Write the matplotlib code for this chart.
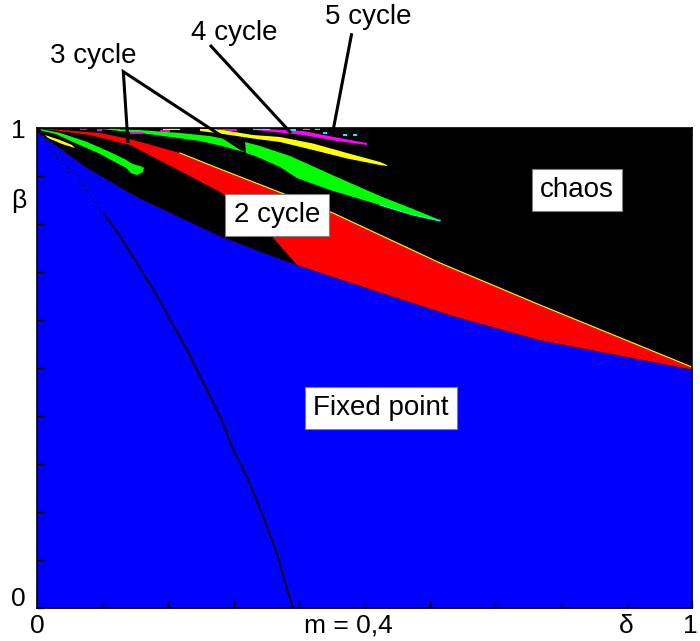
import numpy as np
import matplotlib
matplotlib.use("Agg")
import matplotlib.pyplot as plt
from matplotlib.transforms import ScaledTranslation

plt.rcParams['font.family'] = ['Liberation Sans', 'DejaVu Sans']

# ---------------- data (delta, beta) ----------------
# upper boundary of the fixed-point (blue) region
blue_d = [0.0, 0.0763, 0.1527, 0.279, 0.351, 0.397, 0.508, 0.631, 0.768, 1.0]
blue_b = [0.992, 0.917, 0.856, 0.775, 0.7375, 0.7146, 0.6646, 0.610, 0.558, 0.497]

# 2-cycle (red) region: upper edge and lower-left edge
red_up_d = [0.0, 0.0962, 0.1420, 0.2183, 0.2794, 0.4519, 0.6153, 0.7679, 1.0]
red_up_b = [1.0, 0.9896, 0.977, 0.9479, 0.9146, 0.8229, 0.7188, 0.6313, 0.502]
red_lo_d = [0.0, 0.0809, 0.1420, 0.2107, 0.2794, 0.3374, 0.3634, 0.397]
red_lo_b = [1.0, 0.9854, 0.9646, 0.916, 0.8667, 0.8042, 0.7667, 0.7146]

# 3-cycle (green) regions
g1_d = [0.0046, 0.0351, 0.0763, 0.1115, 0.1344, 0.1435, 0.1511, 0.1573, 0.1634,
        0.1618, 0.1527, 0.1435, 0.1359, 0.1191, 0.0962, 0.0611, 0.0275, 0.0076]
g1_b = [0.998, 0.990, 0.971, 0.950, 0.935, 0.927, 0.923, 0.921, 0.917,
        0.908, 0.902, 0.906, 0.917, 0.929, 0.946, 0.967, 0.988, 0.994]
gA_d = [0.0885, 0.1573, 0.2183, 0.2641, 0.2947, 0.3099, 0.3160, 0.3038, 0.2824,
        0.2489, 0.2031, 0.1573, 0.1115]
gA_b = [0.999, 0.9958, 0.9896, 0.9833, 0.975, 0.9625, 0.95, 0.9542, 0.9625,
        0.9729, 0.9813, 0.9896, 0.9958]
gB_d = [0.3176, 0.3405, 0.3863, 0.4473, 0.5237, 0.5740, 0.6153, 0.6153, 0.5740,
        0.5237, 0.4473, 0.3969, 0.3710, 0.3328, 0.3191]
gB_b = [0.9708, 0.9625, 0.9417, 0.9042, 0.8583, 0.8313, 0.8083, 0.8063, 0.8188,
        0.8396, 0.8708, 0.8958, 0.9188, 0.9417, 0.9479]

# 4-cycle (yellow) regions
y4_d = [0.2489, 0.2794, 0.3298, 0.3710, 0.4214, 0.4733, 0.5237, 0.5344, 0.5344,
        0.5237, 0.4733, 0.4214, 0.3710, 0.3298, 0.2794, 0.2489]
y4_b = [0.999, 0.9969, 0.9854, 0.9813, 0.9677, 0.9479, 0.9292, 0.9229, 0.9208,
        0.9229, 0.9365, 0.9542, 0.9708, 0.9781, 0.9885, 0.9938]
y4s_d = [0.0122, 0.0351, 0.0534, 0.058, 0.0382, 0.0168]
y4s_b = [0.9854, 0.975, 0.9646, 0.9583, 0.9667, 0.9792]

# 5-cycle (magenta) region
m5_d = [0.3328, 0.4061, 0.4580, 0.5038, 0.5038, 0.4580, 0.4061, 0.3557, 0.3328]
m5_b = [0.999, 0.9938, 0.9802, 0.9688, 0.9646, 0.9729, 0.9854, 0.9927, 0.9958]

# small high-period streaks along the top
dash_color = ['#FF00FF', '#00FF00', '#FF00FF', '#FFFF00', '#FF00FF', '#FF00FF',
              '#FF00FF', '#FF00FF', '#00FFFF', '#FF8000', '#00FFFF', '#00FFFF',
              '#00FFFF', '#00FFFF', '#00FFFF']
dash_start = [0.0656, 0.1115, 0.0916, 0.1924, 0.1420, 0.1878, 0.2748, 0.2901,
              0.3298, 0.4061, 0.3863, 0.4366, 0.4672, 0.4824, 0.4244]
dash_end = [0.0763, 0.1267, 0.0992, 0.2183, 0.1618, 0.2031, 0.2947, 0.3053,
            0.3557, 0.4168, 0.3954, 0.4427, 0.4733, 0.4885, 0.4321]
dash_beta = [0.998, 0.998, 0.9948, 0.998, 0.9896, 0.9938, 0.998, 0.9958,
             0.998, 0.998, 0.9958, 0.9896, 0.9854, 0.9854, 0.998]

# black curve inside the fixed-point region
curve_d = [0.0, 0.0305, 0.0508, 0.0763, 0.1018, 0.1272, 0.1527, 0.1782, 0.2035,
           0.2290, 0.2545, 0.2798, 0.2997, 0.3202, 0.3455, 0.3660, 0.3904]
curve_b = [1.0, 0.937, 0.9125, 0.8708, 0.8223, 0.7735, 0.7181, 0.6625, 0.6,
           0.5375, 0.4681, 0.3985, 0.3292, 0.2735, 0.1902, 0.1140, 0.0]

# annotation labels and pointer lines
ann_labels = ['3 cycle', '4 cycle', '5 cycle']
ann_text_d = [0.0855, 0.3008, 0.5053]
ann_text_b = [1.150, 1.198, 1.231]
ann_lines_d = [[0.1389, 0.1318, 0.3145], [0.2641, 0.3878], [0.4805, 0.4519]]
ann_lines_b = [[0.9688, 1.1173, 0.9542], [1.1729, 0.9896], [1.1973, 0.9938]]

region_labels = ['2 cycle', 'chaos', 'Fixed point']
region_d = [0.3664, 0.8244, 0.5252]
region_b = [0.8188, 0.8708, 0.4167]

xtick_vals = [0.0, 0.1, 0.2, 0.3, 0.4, 0.5, 0.6, 0.7, 0.8, 0.9, 1.0]
xtick_text = ['0', '', '', '', '', '', '', '', '', 'δ', '1']
xlabel_pos = 0.476
xlabel_text = 'm = 0,4'
ytick_vals = [0.0, 0.1, 0.2, 0.3, 0.4, 0.5, 0.6, 0.7, 0.8, 0.9, 1.0]
ytick_text = ['0', '', '', '', '', '', '', '', '', '', '1']
ylabel_pos = 0.854
ylabel_text = 'β'

# ---------------- figure ----------------
fig = plt.figure(figsize=(7, 6.41), dpi=100)
ax = fig.add_axes([37 / 700, 33 / 641, 655 / 700, 480 / 641])
ax.set_facecolor('black')
ax.set_xlim(0, 1)
ax.set_ylim(0, 1)

# fixed point region
ax.fill_between(blue_d, 0, blue_b, color='#0000FF', lw=0, zorder=1)
ax.plot(blue_d, blue_b, color='#600030', lw=0.7, ls=(0, (1, 1.5)), zorder=1.5)

# 2-cycle region
bi = [i for i, d in enumerate(blue_d) if d >= red_lo_d[-1]]
rx = red_up_d + [blue_d[i] for i in reversed(bi)] + red_lo_d[::-1][1:]
ry = red_up_b + [blue_b[i] for i in reversed(bi)] + red_lo_b[::-1][1:]
ax.fill(rx, ry, color='#FF0000', lw=0, zorder=2)
ax.plot(red_up_d[3:], red_up_b[3:], color='#FFFF00', lw=0.8, zorder=2.5)

# higher cycles
for xs, ys, c in [(g1_d, g1_b, '#00FF00'), (gA_d, gA_b, '#00FF00'),
                  (gB_d, gB_b, '#00FF00'), (y4_d, y4_b, '#FFFF00'),
                  (y4s_d, y4s_b, '#FFFF00'), (m5_d, m5_b, '#FF00FF')]:
    ax.fill(xs, ys, color=c, lw=0, zorder=3)
ax.plot(gB_d[6:10], gB_b[6:10], color='#00FFFF', lw=0.8, zorder=3.2)

for c, d0, d1, b in zip(dash_color, dash_start, dash_end, dash_beta):
    ax.plot([d0, d1], [b, b], color=c, lw=1.4, solid_capstyle='butt', zorder=3.5)

# black curve
ax.plot(curve_d[:5], curve_b[:5], color='black', lw=1.3, ls=(0, (1, 3)), zorder=4)
ax.plot(curve_d[4:], curve_b[4:], color='black', lw=1.2, zorder=4)

# annotations
for lab, tx, ty, lx, ly in zip(ann_labels, ann_text_d, ann_text_b, ann_lines_d, ann_lines_b):
    ax.plot(lx, ly, color='black', lw=2.2, clip_on=False, zorder=6,
            solid_capstyle='butt', solid_joinstyle='miter')
    ax.text(tx, ty, lab, fontsize=20, ha='center', va='center', clip_on=False)

for lab, tx, ty in zip(region_labels, region_d, region_b):
    ax.text(tx, ty, lab, fontsize=20, ha='center', va='center', zorder=7,
            bbox=dict(boxstyle='square,pad=0.3', facecolor='white',
                      edgecolor='#808080', lw=0.8))

# axes styling
for s in ax.spines.values():
    s.set_linewidth(1.2)
    s.set_color('black')
    s.set_zorder(8)
ax.set_xticks(xtick_vals)
ax.set_xticklabels(xtick_text)
ax.set_xticks([xlabel_pos], [xlabel_text], minor=True)
ax.set_yticks(ytick_vals)
ax.set_yticklabels(ytick_text)
ax.set_yticks([ylabel_pos], [ylabel_text], minor=True)
ax.tick_params(which='major', direction='in', length=5, width=1,
               labelsize=19, top=False, right=False)
ax.tick_params(axis='x', which='both', pad=4)
ax.tick_params(axis='y', which='both', pad=8)
ax.tick_params(which='minor', length=0, labelsize=19)

xl = ax.get_xticklabels()
xl[10].set_transform(xl[10].get_transform() + ScaledTranslation(-0.02, 0, fig.dpi_scale_trans))
yl = ax.get_yticklabels()
yl[0].set_transform(yl[0].get_transform() + ScaledTranslation(0, 0.11, fig.dpi_scale_trans))

fig.savefig('out.png', dpi=100, facecolor='white')
